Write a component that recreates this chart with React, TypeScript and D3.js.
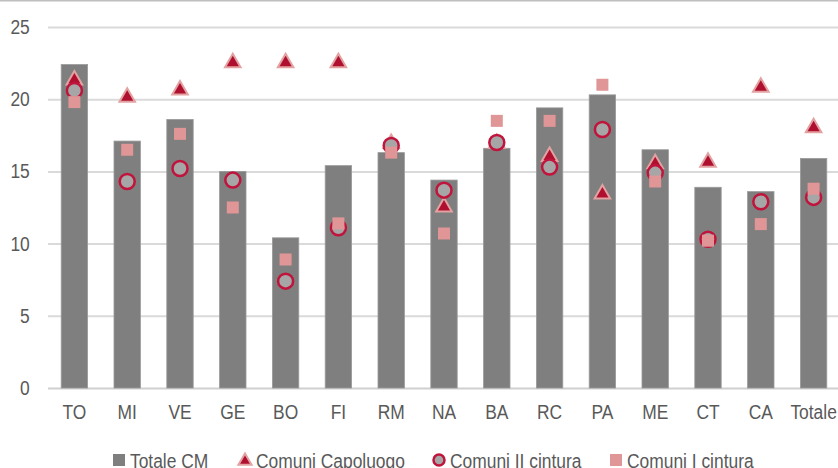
import * as d3 from "d3";
import { useRef, useEffect } from "react";

const categories = ["TO", "MI", "VE", "GE", "BO", "FI", "RM", "NA", "BA", "RC", "PA", "ME", "CT", "CA", "Totale"];
const totaleCM = [22.4, 17.1, 18.6, 15.0, 10.4, 15.4, 16.3, 14.4, 16.6, 19.4, 20.3, 16.5, 13.9, 13.6, 15.9];
const capoluogo = [21.4, 20.2, 20.7, 22.6, 22.6, 22.6, 17.0, 12.6, 17.0, 16.1, 13.5, 15.6, 15.7, 20.9, 18.1];
const secondaCintura = [20.6, 14.3, 15.2, 14.4, 7.4, 11.1, 16.8, 13.7, 17.0, 15.3, 17.9, 14.9, 10.3, 12.9, 13.2];
const primaCintura = [19.8, 16.5, 17.6, 12.5, 8.9, 11.4, 16.3, 10.7, 18.5, 18.5, 21.0, 14.3, 10.2, 11.35, 13.8];
const yTicks = [0, 5, 10, 15, 20, 25];
const legendLabels = ["Totale CM", "Comuni Capoluogo", "Comuni II cintura", "Comuni I cintura"];

const width = 838;
const height = 468;
const marginTop = 27;
const marginBottom = 80;
const marginLeft = 48;
const marginRight = -2;

// no narrow font installed, so squeeze Liberation Sans horizontally
const font = "'Liberation Sans', Arial, sans-serif";
const squeeze = 0.87;
const textColor = "#595959";
const barColor = "#7f7f7f";
const triFill = "#b0102f";
const triStroke = "#e3a2a2";
const circFill = "#a6a6a6";
const circStroke = "#c0143c";
const squareColor = "#e09696";

export default function App() {
  const x = d3.scaleBand(categories, [marginLeft, width - marginRight]).paddingInner(0.5).paddingOuter(0.25);
  const y = d3.scaleLinear([0, 25], [height - marginBottom, marginTop]);
  const cx = (i: number) => x(categories[i])! + x.bandwidth() / 2;
  const tri = d3.symbol(d3.symbolTriangle, 105);

  const gx = useRef<SVGGElement>(null);
  const gy = useRef<SVGGElement>(null);

  useEffect(() => {
    const g = d3.select(gy.current!);
    g.call(d3.axisLeft(y).tickValues(yTicks).tickSize(-(width - marginRight - marginLeft)).tickPadding(21));
    g.select(".domain").remove();
    g.selectAll(".tick line").attr("stroke", (d) => (d === 0 ? "#d0d0d0" : "#dadada")).attr("stroke-width", 2);
    g.selectAll(".tick text")
      .attr("fill", textColor)
      .attr("font-size", 20)
      .attr("font-family", font)
      .attr("transform", `scale(${squeeze},1)`);
  }, []);

  useEffect(() => {
    const g = d3.select(gx.current!);
    g.call(d3.axisBottom(x).tickSize(0).tickPadding(17));
    g.select(".domain").remove();
    g.selectAll(".tick text")
      .attr("fill", textColor)
      .attr("font-size", 20)
      .attr("font-family", font)
      .attr("transform", `scale(${squeeze},1)`);
  }, []);

  const legendY = 461;
  const legendItems = [
    { x: 113, label: legendLabels[0], kind: "bar" },
    { x: 239, label: legendLabels[1], kind: "tri" },
    { x: 433, label: legendLabels[2], kind: "circ" },
    { x: 610, label: legendLabels[3], kind: "sq" },
  ];

  return (
    <svg width={width} height={height} style={{ position: "absolute", left: 0, top: 0, background: "#fff" }}>
      <line x1={0} x2={width} y1={0.5} y2={0.5} stroke="#bfbfbf" strokeWidth={2} />
      <g ref={gy} transform={`translate(${marginLeft},0)`} />
      <g>
        {totaleCM.map((v, i) => (
          <rect
            key={i}
            x={x(categories[i])}
            y={y(v)}
            width={x.bandwidth()}
            height={y(0) - y(v)}
            fill={barColor}
            stroke="#9a9a9a"
            strokeWidth={0.8}
          />
        ))}
      </g>
      <g>
        {capoluogo.map((v, i) => (
          <path
            key={i}
            d={tri() as string}
            transform={`translate(${cx(i)},${y(v) + 1})`}
            fill={triFill}
            stroke={triStroke}
            strokeWidth={2}
          />
        ))}
      </g>
      <g>
        {secondaCintura.map((v, i) => (
          <circle key={i} cx={cx(i)} cy={y(v)} r={7.5} fill={circFill} stroke={circStroke} strokeWidth={2.5} />
        ))}
      </g>
      <g>
        {primaCintura.map((v, i) => (
          <rect key={i} x={cx(i) - 6} y={y(v) - 6} width={12} height={12} fill={squareColor} />
        ))}
      </g>
      <g ref={gx} transform={`translate(0,${height - marginBottom})`} />
      <g fontFamily={font} fontSize={20} fill={textColor}>
        {legendItems.map((it, i) => (
          <g key={i} transform={`translate(${it.x},${legendY})`}>
            {it.kind === "bar" && <rect x={0} y={-7} width={12} height={12} fill={barColor} />}
            {it.kind === "tri" && (
              <path d={d3.symbol(d3.symbolTriangle, 75)() as string} transform="translate(6,0)" fill={triFill} stroke={triStroke} strokeWidth={2} />
            )}
            {it.kind === "circ" && <circle cx={6} cy={-1} r={5.5} fill={circFill} stroke={circStroke} strokeWidth={2.5} />}
            {it.kind === "sq" && <rect x={0} y={-7} width={12} height={12} fill={squareColor} />}
            <text x={17 / squeeze} y={7} transform={`scale(${squeeze},1)`}>{it.label}</text>
          </g>
        ))}
      </g>
    </svg>
  );
}
